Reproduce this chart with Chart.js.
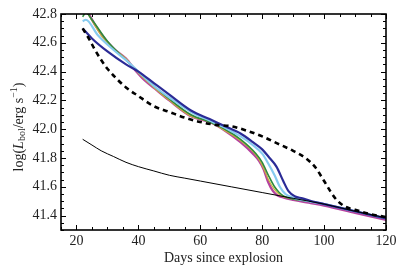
<!DOCTYPE html>
<html>
<head>
<meta charset="utf-8">
<script src="https://cdn.jsdelivr.net/npm/chart.js@4"></script>
<style>
  html, body { margin: 0; padding: 0; background: #fff; }
  #chart { display: block; }
</style>
</head>
<body>
<canvas id="chart" width="407" height="271"></canvas>
<script>
// Bolometric light curves

const xTicks = [20, 40, 60, 80, 100, 120];
const yTicks = [41.4, 41.6, 41.8, 42.0, 42.2, 42.4, 42.6, 42.8];

const navyDays = [22, 25, 30, 36, 40, 45, 50, 57, 63, 68, 73, 77, 80, 82, 84.6, 86.8, 88.5, 90.5, 93, 96, 100, 110, 120];
const navyLum  = [42.70, 42.63, 42.54, 42.45, 42.40, 42.32, 42.24, 42.13, 42.07, 42.02, 41.97, 41.91, 41.86, 41.81, 41.74, 41.64, 41.57, 41.535, 41.52, 41.50, 41.48, 41.43, 41.38];

const skyDays = [22, 23, 27, 32, 36, 40, 45, 50, 57, 63, 68, 73, 77, 80, 82, 84, 85.7, 87.5, 90, 95, 100, 110, 120];
const skyLum  = [42.75, 42.76, 42.65, 42.55, 42.48, 42.40, 42.30, 42.22, 42.12, 42.06, 42.01, 41.95, 41.89, 41.83, 41.76, 41.68, 41.60, 41.55, 41.525, 41.50, 41.48, 41.43, 41.38];

const greenDays = [22, 23, 25, 30, 35, 40, 45, 50, 57, 63, 68, 73, 78, 80, 82, 84, 85.5, 87, 90, 95, 100, 110, 120];
const greenLum  = [42.78, 42.81, 42.76, 42.61, 42.50, 42.40, 42.30, 42.21, 42.10, 42.05, 42.00, 41.93, 41.83, 41.77, 41.68, 41.60, 41.56, 41.535, 41.515, 41.50, 41.48, 41.43, 41.38];

const yellowDays = [22, 24, 28, 32, 36, 40, 45, 50, 57, 63, 68, 73, 78, 80, 82, 84, 86, 89, 95, 100, 110, 120];
const yellowLum  = [42.85, 42.79, 42.65, 42.56, 42.49, 42.39, 42.29, 42.20, 42.09, 42.05, 41.99, 41.92, 41.82, 41.75, 41.65, 41.58, 41.54, 41.52, 41.50, 41.48, 41.43, 41.38];

const magentaDays = [22, 24, 28, 32, 36, 39, 42, 46, 50, 57, 63, 68, 73, 77, 79, 80.5, 82, 83.5, 85, 87, 90, 95, 100, 110, 120];
const magentaLum  = [42.90, 42.80, 42.66, 42.56, 42.49, 42.41, 42.34, 42.27, 42.20, 42.09, 42.05, 41.99, 41.91, 41.83, 41.78, 41.72, 41.63, 41.57, 41.54, 41.525, 41.51, 41.49, 41.47, 41.42, 41.37];

const dashDays = [22, 24, 26, 28, 30, 33, 36, 40, 45, 50, 55, 60, 65, 70, 75, 80, 85, 90, 94, 97, 100, 102, 104, 107, 110, 115, 120];
const dashLum  = [42.70, 42.63, 42.55, 42.48, 42.42, 42.35, 42.29, 42.23, 42.16, 42.12, 42.08, 42.05, 42.03, 42.02, 41.99, 41.95, 41.90, 41.85, 41.80, 41.74, 41.64, 41.57, 41.51, 41.46, 41.44, 41.41, 41.39];

const thinDays = [22, 25, 28, 32, 36, 40, 45, 50, 55, 60, 70, 80, 90, 100, 110, 120];
const thinLum  = [41.93, 41.89, 41.85, 41.81, 41.77, 41.74, 41.71, 41.68, 41.66, 41.64, 41.60, 41.56, 41.52, 41.48, 41.43, 41.385];

const FONT = '"Liberation Serif", "DejaVu Serif", serif';

function pts(xs, ys) {
  return xs.map((x, i) => ({ x: x, y: ys[i] }));
}

function line(xs, ys, color, width, dash) {
  return {
    data: pts(xs, ys),
    borderColor: color,
    borderWidth: width,
    borderDash: dash || [],
    borderJoinStyle: 'round',
    pointRadius: 0,
    fill: false,
    cubicInterpolationMode: 'monotone'
  };
}

// ticks pointing inward on all four sides + frame
const frameTicks = {
  id: 'frameTicks',
  afterDatasetsDraw(chart) {
    const { ctx, chartArea: a, scales } = chart;
    ctx.save();
    ctx.strokeStyle = '#000';
    ctx.lineWidth = 1;
    for (let v = 15; v <= 120; v += 5) {
      const px = Math.round(scales.x.getPixelForValue(v)) + 0.5;
      const len = v % 20 === 0 ? 5 : 3;
      ctx.beginPath();
      ctx.moveTo(px, a.bottom); ctx.lineTo(px, a.bottom - len);
      ctx.moveTo(px, a.top); ctx.lineTo(px, a.top + len);
      ctx.stroke();
    }
    for (let i = 0; i <= 30; i++) {
      const v = 41.3 + i * 0.05;
      const py = Math.round(scales.y.getPixelForValue(v)) + 0.5;
      const len = (i % 4 === 2) ? 5 : 3;
      ctx.beginPath();
      ctx.moveTo(a.left, py); ctx.lineTo(a.left + len, py);
      ctx.moveTo(a.right, py); ctx.lineTo(a.right - len, py);
      ctx.stroke();
    }
    ctx.lineWidth = 1.6;
    ctx.strokeRect(a.left, a.top, a.right - a.left, a.bottom - a.top);
    ctx.restore();
  }
};

// y axis title with sub/superscript
const yTitle = {
  id: 'yTitle',
  afterDraw(chart) {
    const { ctx, chartArea: a } = chart;
    const parts = [
      { t: 'log(', f: '14px ' + FONT, dy: 0 },
      { t: 'L', f: 'italic 14px ' + FONT, dy: 0 },
      { t: 'bol', f: '10px ' + FONT, dy: 3 },
      { t: '/erg s', f: '14px ' + FONT, dy: 0 },
      { t: '\u22121', f: '10px ' + FONT, dy: -5 },
      { t: ')', f: '14px ' + FONT, dy: 0 }
    ];
    ctx.save();
    let total = 0;
    parts.forEach(p => { ctx.font = p.f; p.w = ctx.measureText(p.t).width; total += p.w; });
    ctx.translate(19, (a.top + a.bottom) / 2 + 5);
    ctx.rotate(-Math.PI / 2);
    ctx.fillStyle = '#222';
    ctx.textBaseline = 'middle';
    let x = -total / 2;
    parts.forEach(p => {
      ctx.font = p.f;
      ctx.fillText(p.t, x, p.dy);
      x += p.w;
    });
    ctx.restore();
  }
};

new Chart(document.getElementById('chart'), {
  type: 'line',
  data: {
    datasets: [
      line(thinDays, thinLum, '#000', 1),
      line(dashDays, dashLum, '#000', 2.6, [5, 4]),
      line(navyDays, navyLum, '#2b2b96', 2.2),
      line(skyDays, skyLum, '#87cbf0', 2.2),
      line(greenDays, greenLum, '#2e8b3a', 1.6),
      line(yellowDays, yellowLum, '#c9b43a', 1.2),
      line(magentaDays, magentaLum, '#b5429f', 2.4)
    ]
  },
  options: {
    responsive: false,
    animation: false,
    layout: { padding: { top: 14, right: 21, left: 0, bottom: 0 } },
    plugins: { legend: { display: false }, tooltip: { enabled: false } },
    scales: {
      x: {
        type: 'linear',
        min: 15,
        max: 120,
        afterBuildTicks: s => { s.ticks = xTicks.map(v => ({ value: v })); },
        afterFit: s => { s.height = 41; },
        grid: { display: false, drawTicks: false },
        border: { display: false },
        ticks: { font: { family: FONT, size: 14 }, color: '#222', padding: 3, maxRotation: 0 },
        title: {
          display: true,
          text: 'Days since explosion',
          font: { family: FONT, size: 14 },
          color: '#222',
          padding: { top: 0, bottom: 4 }
        }
      },
      y: {
        type: 'linear',
        min: 41.3,
        max: 42.8,
        afterBuildTicks: s => { s.ticks = yTicks.map(v => ({ value: v })); },
        afterFit: s => { s.width = 61; },
        grid: { display: false, drawTicks: false },
        border: { display: false },
        ticks: {
          font: { family: FONT, size: 14 },
          color: '#222',
          padding: 4,
          callback: v => v.toFixed(1)
        }
      }
    }
  },
  plugins: [frameTicks, yTitle]
});
</script>
</body>
</html>
